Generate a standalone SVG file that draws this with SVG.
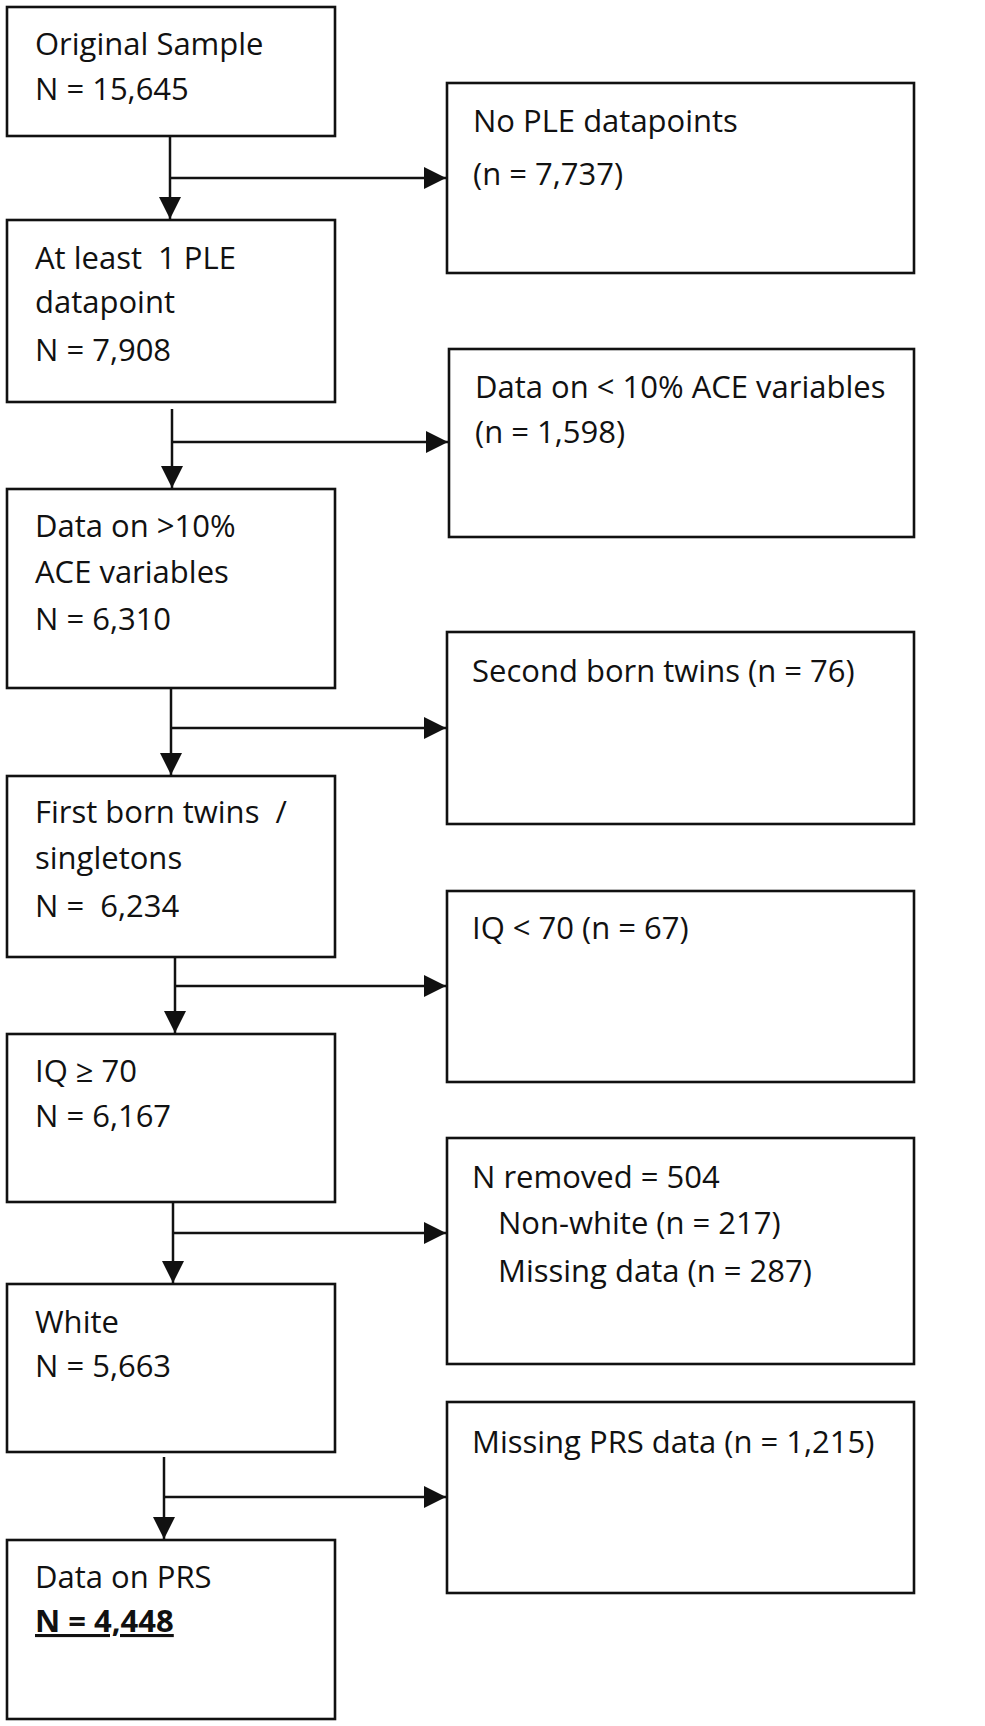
<svg xmlns="http://www.w3.org/2000/svg" width="985" height="1726" viewBox="0 0 985 1726">
<style>
.box{fill:#fff;stroke:#111;stroke-width:2.6}
.t{font-family:"Open Sans","Noto Sans","DejaVu Sans",sans-serif;font-size:31px;fill:#111;white-space:pre}
.b{font-weight:bold;text-decoration:underline}
.c{fill:none;stroke:#111;stroke-width:2.5}
</style>
<defs>
<marker id="ah" markerUnits="userSpaceOnUse" markerWidth="22" markerHeight="22" refX="22" refY="11" orient="auto" viewBox="0 0 22 22">
<path d="M0,0 L22,11 L0,22 z" fill="#111"/>
</marker>
</defs>
<rect width="985" height="1726" fill="#fff"/>
<g id="connectors">
<path class="c" d="M170,137 V219" marker-end="url(#ah)"/>
<path class="c" d="M170,178 H446" marker-end="url(#ah)"/>
<path class="c" d="M172,409 V488" marker-end="url(#ah)"/>
<path class="c" d="M172,442 H448" marker-end="url(#ah)"/>
<path class="c" d="M171,689 V775" marker-end="url(#ah)"/>
<path class="c" d="M171,728 H446" marker-end="url(#ah)"/>
<path class="c" d="M175,958 V1033" marker-end="url(#ah)"/>
<path class="c" d="M175,986 H446" marker-end="url(#ah)"/>
<path class="c" d="M173,1203 V1283" marker-end="url(#ah)"/>
<path class="c" d="M173,1233 H446" marker-end="url(#ah)"/>
<path class="c" d="M164,1457 V1539" marker-end="url(#ah)"/>
<path class="c" d="M164,1497 H446" marker-end="url(#ah)"/>
</g>
<g id="original">
<rect class="box" x="7" y="7" width="328" height="129"/>
<text class="t" x="35" y="55">Original Sample</text>
<text class="t" x="35" y="100">N = 15,645</text>
</g>
<g id="no-ple">
<rect class="box" x="447" y="83" width="467" height="190"/>
<text class="t" x="473" y="132">No PLE datapoints</text>
<text class="t" x="473" y="185">(n = 7,737)</text>
</g>
<g id="ple">
<rect class="box" x="7" y="220" width="328" height="182"/>
<text class="t" x="35" y="269">At least  1 PLE</text>
<text class="t" x="35" y="313">datapoint</text>
<text class="t" x="35" y="361">N = 7,908</text>
</g>
<g id="ace-low">
<rect class="box" x="449" y="349" width="465" height="188"/>
<text class="t" x="475" y="398">Data on &lt; 10% ACE variables</text>
<text class="t" x="475" y="443">(n = 1,598)</text>
</g>
<g id="ace-high">
<rect class="box" x="7" y="489" width="328" height="199"/>
<text class="t" x="35" y="537">Data on &gt;10%</text>
<text class="t" x="35" y="583">ACE variables</text>
<text class="t" x="35" y="630">N = 6,310</text>
</g>
<g id="second-born">
<rect class="box" x="447" y="632" width="467" height="192"/>
<text class="t" x="472" y="682">Second born twins (n = 76)</text>
</g>
<g id="first-born">
<rect class="box" x="7" y="776" width="328" height="181"/>
<text class="t" x="35" y="823">First born twins  /</text>
<text class="t" x="35" y="869">singletons</text>
<text class="t" x="35" y="917">N =  6,234</text>
</g>
<g id="iq-low">
<rect class="box" x="447" y="891" width="467" height="191"/>
<text class="t" x="472" y="939">IQ &lt; 70 (n = 67)</text>
</g>
<g id="iq-ok">
<rect class="box" x="7" y="1034" width="328" height="168"/>
<text class="t" x="35" y="1082">IQ ≥ 70</text>
<text class="t" x="35" y="1127">N = 6,167</text>
</g>
<g id="removed">
<rect class="box" x="447" y="1138" width="467" height="226"/>
<text class="t" x="472" y="1188">N removed = 504</text>
<text class="t" x="498" y="1234">Non-white (n = 217)</text>
<text class="t" x="498" y="1282">Missing data (n = 287)</text>
</g>
<g id="white">
<rect class="box" x="7" y="1284" width="328" height="168"/>
<text class="t" x="35" y="1333">White</text>
<text class="t" x="35" y="1377">N = 5,663</text>
</g>
<g id="prs-missing">
<rect class="box" x="447" y="1402" width="467" height="191"/>
<text class="t" x="472" y="1453">Missing PRS data (n = 1,215)</text>
</g>
<g id="prs">
<rect class="box" x="7" y="1540" width="328" height="179"/>
<text class="t" x="35" y="1588">Data on PRS</text>
<text class="t b" x="35" y="1632">N = 4,448</text>
</g>
</svg>
